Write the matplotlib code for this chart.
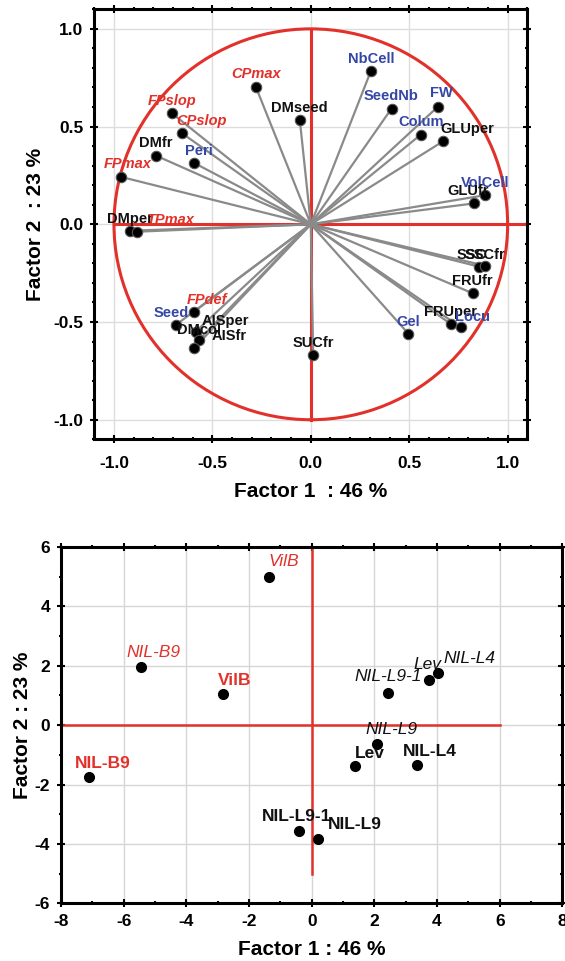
import matplotlib.pyplot as plt
from matplotlib.patches import Circle
from matplotlib.ticker import MultipleLocator

plt.rcParams['font.family'] = ['Liberation Sans', 'DejaVu Sans']
plt.rcParams['axes.unicode_minus'] = False

RED = '#e2312a'
BLUE = '#3446a6'
GRAY = '#8a8a8a'

# correlation circle: variables on factor 1 / factor 2
var_names = ['CPmax', 'DMseed', 'NbCell', 'SeedNb', 'FW', 'Colum', 'GLUper',
             'VolCell', 'GLUfr', 'FPslop', 'CPslop', 'DMfr', 'Peri', 'FPmax',
             'DMper', 'TPmax', 'SSC', 'SSCfr', 'FRUfr', 'FRUper', 'Locu', 'Gel',
             'SUCfr', 'FPdef', 'Seed', 'AISper', 'DMcol', 'AISfr']
var_f1 = [-0.280, -0.056, 0.305, 0.410, 0.644, 0.559, 0.674,
          0.885, 0.830, -0.707, -0.656, -0.788, -0.593, -0.966,
          -0.920, -0.882, 0.856, 0.885, 0.822, 0.712, 0.763, 0.496,
          0.012, -0.593, -0.686, -0.585, -0.568, -0.593]
var_f2 = [0.705, 0.535, 0.784, 0.592, 0.600, 0.459, 0.426,
          0.149, 0.107, 0.569, 0.467, 0.352, 0.314, 0.243,
          -0.033, -0.038, -0.217, -0.212, -0.353, -0.511, -0.528, -0.560,
          -0.668, -0.447, -0.515, -0.549, -0.591, -0.634]
var_group = ['r', 'k', 'b', 'b', 'b', 'b', 'k',
             'b', 'k', 'r', 'r', 'k', 'b', 'r',
             'k', 'r', 'k', 'k', 'k', 'k', 'b', 'b',
             'k', 'r', 'b', 'k', 'k', 'k']

# individuals (genotypes) on factor 1 / factor 2
ind_names = ['NIL-B9', 'VilB', 'VilB', 'NIL-B9', 'NIL-L9-1', 'Lev', 'NIL-L4',
             'NIL-L9', 'Lev', 'NIL-L4', 'NIL-L9-1', 'NIL-L9']
ind_f1 = [-7.11, -2.82, -1.35, -5.46, 2.45, 3.75, 4.02,
          2.08, 1.39, 3.37, -0.40, 0.19]
ind_f2 = [-1.75, 1.04, 4.98, 1.97, 1.09, 1.52, 1.75,
          -0.65, -1.39, -1.35, -3.57, -3.84]
ind_red = [True, True, True, True, False, False, False,
           False, False, False, False, False]
ind_italic = [False, False, True, True, True, True, True,
              True, False, False, False, False]

top_ticks = [-1.0, -0.5, 0.0, 0.5, 1.0]
bot_ticks = [-8, -6, -4, -2, 0, 2, 4, 6, 8]
bot_yticks = [-6, -4, -2, 0, 2, 4, 6]

colors = {'r': RED, 'b': BLUE, 'k': '#111111'}

fig = plt.figure(figsize=(5.65, 9.61), dpi=100)

# ---------------- top panel ----------------
ax = fig.add_axes([0.1669, 0.5429, 0.7664, 0.4474])
ax.set_xlim(-1.1, 1.1)
ax.set_ylim(-1.1, 1.1)
ax.set_xticks(top_ticks)
ax.set_yticks(top_ticks)
ax.set_xticklabels(['%.1f' % t for t in top_ticks])
ax.set_yticklabels(['%.1f' % t for t in top_ticks])
ax.xaxis.set_minor_locator(MultipleLocator(0.1))
ax.yaxis.set_minor_locator(MultipleLocator(0.1))
ax.grid(True, color='#dddddd', lw=1, zorder=0)

ax.add_patch(Circle((0, 0), 1.0, fill=False, ec=RED, lw=2.2, zorder=2))
ax.plot([-1.0, 1.1], [0, 0], color=RED, lw=2.2, zorder=2)
ax.plot([0, 0], [-1.0, 1.0], color=RED, lw=2.2, zorder=2)

lab_off = {'GLUper': (0.12, 0.06), 'CPslop': (0.10, 0.06), 'TPmax': (0.17, 0.062),
           'SSC': (-0.039, 0.061), 'SSCfr': (0.001, 0.055), 'Locu': (0.06, 0.056),
           'FPdef': (0.064, 0.062), 'Seed': (-0.025, 0.06), 'AISper': (0.15, 0.053),
           'AISfr': (0.177, 0.06), 'DMcol': (0.0, 0.051), 'FW': (0.02, 0.074),
           'FPmax': (0.037, 0.063), 'Peri': (0.025, 0.062), 'GLUfr': (-0.03, 0.062)}

for n, x, y, g in zip(var_names, var_f1, var_f2, var_group):
    ax.plot([0, x], [0, y], color=GRAY, lw=1.6, zorder=3)
    ax.plot(x, y, 'o', color='black', ms=7.5, mec='#555555', mew=0.8, zorder=4)
    dx, dy = lab_off.get(n, (0.0, 0.062))
    ax.text(x + dx, y + dy, n, color=colors[g], fontsize=10.5, fontweight='bold',
            style='italic' if g == 'r' else 'normal',
            ha='center', va='center', zorder=5)

ax.set_xlabel('Factor 1  : 46 %', fontsize=15, fontweight='bold')
ax.set_ylabel('Factor 2  : 23 %', fontsize=15, fontweight='bold')
ax.xaxis.set_label_coords(0.5, -0.099)
ax.yaxis.set_label_coords(-0.114, 0.5)

# ---------------- bottom panel ----------------
bx = fig.add_axes([0.108, 0.0600, 0.8874, 0.3708])
bx.set_xlim(-8, 8)
bx.set_ylim(-6, 6)
bx.set_xticks(bot_ticks)
bx.set_yticks(bot_yticks)
bx.xaxis.set_minor_locator(MultipleLocator(1))
bx.yaxis.set_minor_locator(MultipleLocator(1))
bx.grid(True, color='#d6d6d6', lw=1, zorder=0)

bx.plot([-8, 6], [0, 0], color=RED, lw=1.8, zorder=2)
bx.plot([0, 0], [-5, 6], color=RED, lw=1.8, zorder=2)

ind_off = [(0.45, 0.47), (0.35, 0.48), (0.46, 0.54), (0.40, 0.47),
           (-0.02, 0.54), (-0.05, 0.53), (1.02, 0.50), (0.45, 0.50),
           (0.46, 0.45), (0.40, 0.45), (-0.08, 0.50), (1.19, 0.49)]

for n, x, y, red, it, off in zip(ind_names, ind_f1, ind_f2, ind_red, ind_italic, ind_off):
    bx.plot(x, y, 'o', color='black', ms=7, zorder=4)
    bx.text(x + off[0], y + off[1], n, color=RED if red else '#111111',
            fontsize=12.5, fontweight='normal' if it else 'bold',
            style='italic' if it else 'normal', ha='center', va='center', zorder=5)

bx.set_xlabel('Factor 1 : 46 %', fontsize=15, fontweight='bold')
bx.set_ylabel('Factor 2 : 23 %', fontsize=15, fontweight='bold')
bx.xaxis.set_label_coords(0.5, -0.103)
bx.yaxis.set_label_coords(-0.058, 0.5)

for a in (ax, bx):
    for s in a.spines.values():
        s.set_linewidth(2.2)
        s.set_zorder(6)
    a.tick_params(which='both', direction='inout', top=True, right=True,
                  width=1.5, labelsize=12.5)
    a.tick_params(which='major', length=6)
    a.tick_params(which='minor', length=3)
    for lab in a.get_xticklabels() + a.get_yticklabels():
        lab.set_fontweight('bold')

ax.tick_params(axis='x', pad=9)
ax.tick_params(axis='y', pad=5)
bx.tick_params(axis='x', pad=5)
bx.tick_params(axis='y', pad=5)

fig.savefig('out.png', dpi=100)
